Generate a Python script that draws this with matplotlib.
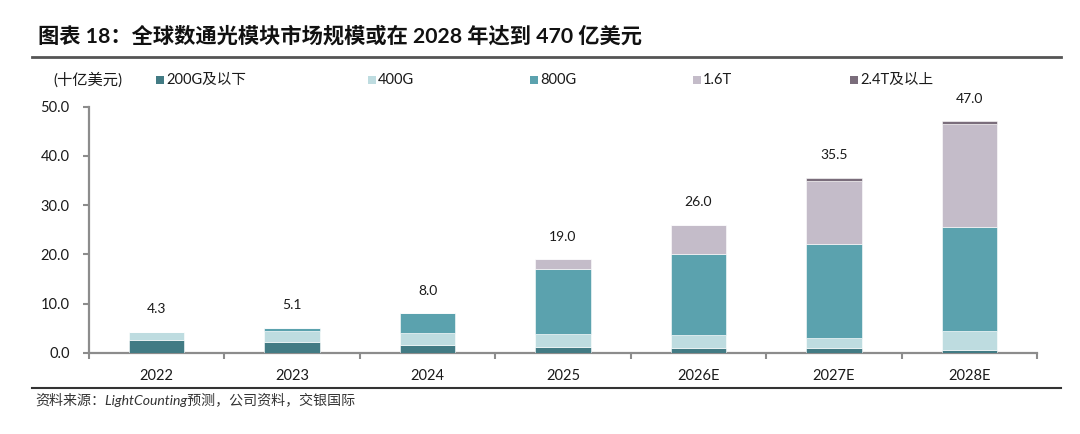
import matplotlib
matplotlib.use("Agg")
import matplotlib.pyplot as plt
import numpy as np
from matplotlib.patches import Rectangle
from matplotlib.lines import Line2D

plt.rcParams['font.family'] = ['Lato', 'Noto Sans CJK SC', 'DejaVu Sans']

categories = ["2022", "2023", "2024", "2025", "2026E", "2027E", "2028E"]
series_names = ["200G及以下", "400G", "800G", "1.6T", "2.4T及以上"]
v_200g = [2.5, 2.2, 1.5, 1.2, 1.0, 0.9, 0.5]
v_400g = [1.8, 2.3, 2.5, 2.7, 2.5, 2.1, 4.0]
v_800g = [0.0, 0.6, 4.0, 13.1, 16.5, 19.0, 21.0]
v_16t = [0.0, 0.0, 0.0, 2.0, 6.0, 13.0, 21.0]
v_24t = [0.0, 0.0, 0.0, 0.0, 0.0, 0.5, 0.5]
totals = [4.3, 5.1, 8.0, 19.0, 26.0, 35.5, 47.0]
yticks = [0, 10, 20, 30, 40, 50]

colors = ["#427B84", "#BEDCE0", "#5BA2AE", "#C4BCC9", "#7A6D7B"]

W, H = 1080, 434
fig = plt.figure(figsize=(W / 100, H / 100), dpi=100)
fig.patch.set_facecolor("white")

def fx(px):
    return px / W

def fy(py):
    return 1 - py / H

ax = fig.add_axes([fx(89), fy(352.7), fx(1037) - fx(89), fy(106.7) - fy(352.7)])

x = np.arange(len(categories))
bottom = np.zeros(len(categories))
for vals, col, name in zip([v_200g, v_400g, v_800g, v_16t, v_24t], colors, series_names):
    vals = np.array(vals)
    ax.bar(x, vals, 0.41, bottom=bottom, color=col, edgecolor="white",
           linewidth=0.4, label=name, zorder=3)
    bottom += vals

for xi, t in zip(x, totals):
    ax.annotate(f"{t:.1f}", (xi, t), xytext=(0, 16.3), textcoords="offset points",
                ha="center", va="center", fontsize=10, color="#1a1a1a")

ax.set_xlim(-0.5, len(categories) - 0.5)
ax.set_ylim(0, 50)
ax.set_yticks(yticks)
ax.set_yticklabels([f"{v:.1f}" for v in yticks])
ax.set_xticks(x)
ax.set_xticklabels(categories)
ax.set_xticks(np.arange(-0.5, len(categories)), minor=True)
ax.tick_params(axis="x", which="major", length=0, pad=12, labelsize=10.5, labelcolor="#1a1a1a")
ax.tick_params(axis="x", which="minor", length=4, width=1.5, color="#8c8c8c", direction="out")
ax.tick_params(axis="y", which="major", length=4, width=1.5, color="#8c8c8c", pad=10,
               labelsize=10.5, labelcolor="#1a1a1a")
for s in ["top", "right"]:
    ax.spines[s].set_visible(False)
for s in ["left", "bottom"]:
    ax.spines[s].set_color("#8c8c8c")
    ax.spines[s].set_linewidth(1.6)

# Title
fig.text(fx(38), fy(36.5), "图表 18：全球数通光模块市场规模或在 2028 年达到 470 亿美元",
         fontsize=15.3, fontweight="bold", ha="left", va="center", color="#111111")
fig.add_artist(Line2D([fx(32), fx(1061)], [fy(57), fy(57)], color="#555555", linewidth=2))

# Legend
fig.text(fx(53), fy(80), "(十亿美元)", fontsize=11, ha="left", va="center", color="#1a1a1a")
leg_x = [156, 368, 530, 693, 850]
for lx, col, name in zip(leg_x, colors, series_names):
    fig.add_artist(Rectangle((fx(lx), fy(84)), fx(8), 8 / H, facecolor=col, edgecolor="none"))
    fig.text(fx(lx + 10), fy(80), name, fontsize=10.5, ha="left", va="center", color="#1a1a1a")

# Bottom rule and source
fig.add_artist(Line2D([fx(32), fx(1061)], [fy(387.5), fy(387.5)], color="#333333", linewidth=1.5))
fig.text(fx(35), fy(400), "资料来源：LightCounting预测，公司资料，交银国际",
         fontsize=10.1, style="italic", ha="left", va="center", color="#333333")

fig.savefig("out.png", dpi=100)
